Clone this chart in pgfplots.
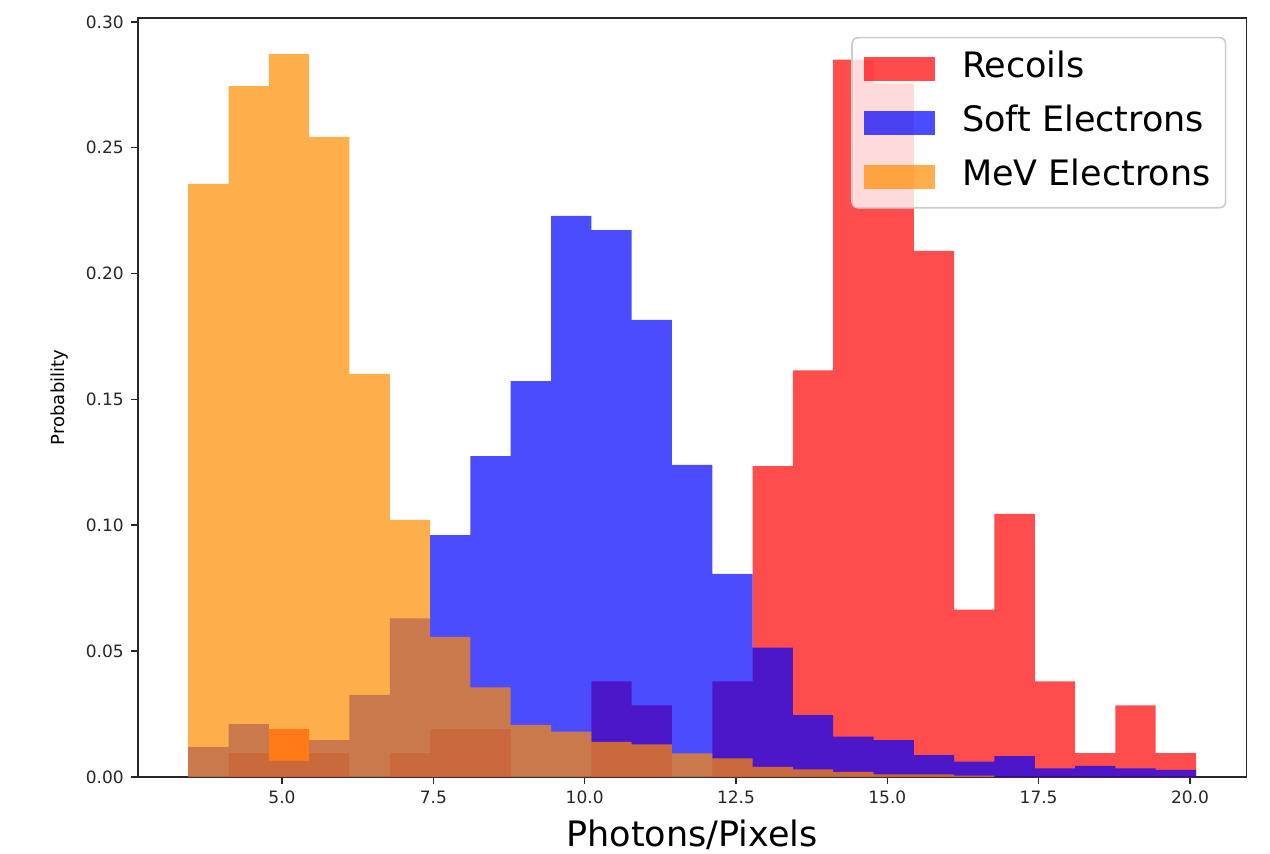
\documentclass[border=0pt]{standalone}
\usepackage{pgfplots}
\pgfplotsset{compat=1.18}
\usepackage{fontspec}
\setmainfont{DejaVu Sans}
\definecolor{mred}{RGB}{255,0,0}
\definecolor{mblue}{RGB}{0,0,255}
\definecolor{morange}{RGB}{255,140,0}
\definecolor{spine}{RGB}{40,40,40}
\definecolor{legframe}{RGB}{204,204,204}

\begin{document}
\begin{tikzpicture}
\begin{axis}[
  name=ax,
  scale only axis,
  width=554.3pt, height=379.55pt,
  xmin=2.6175, xmax=20.9325,
  ymin=0, ymax=0.30156,
  axis line style={spine, line width=0.8pt},
  xtick={5,7.5,10,12.5,15,17.5,20},
  ytick={0,0.05,0.1,0.15,0.2,0.25,0.3},
  scaled ticks=false,
  tick align=outside,
  tick pos=left,
  major tick length=3.5pt,
  tick style={spine, line width=0.8pt},
  ticklabel style={font=\fontsize{8.5}{10}\selectfont, text=black!85},
  /pgf/number format/assume math mode=true,
  x tick label style={/pgf/number format/fixed, /pgf/number format/fixed zerofill, /pgf/number format/precision=1},
  y tick label style={/pgf/number format/fixed, /pgf/number format/fixed zerofill, /pgf/number format/precision=2},
  xlabel={Photons/Pixels},
  xlabel style={font=\fontsize{17.5}{20}\selectfont, at={(axis description cs:0.5,0)}, anchor=center, yshift=-29pt},
  ylabel={Probability},
  ylabel style={font=\fontsize{9}{11}\selectfont, at={(axis description cs:-0.0702,0.5)}, anchor=center},
  legend cell align=left,
  legend image code/.code={\fill[#1, sharp corners] (0pt,-6pt) rectangle (35.5pt,6pt);},
  legend style={at={(1,1)}, anchor=north east, xshift=-10pt, yshift=-9.5pt,
    draw=legframe, line width=0.8pt, rounded corners=3pt, fill=white, fill opacity=0.8, text opacity=1,
    font=\fontsize{17.5}{20}\selectfont, inner sep=6pt,
    nodes={inner sep=1.5pt, text height=12.5pt, text depth=3.5pt},
    /tikz/every odd column/.append style={column sep=12pt},
    row sep=8pt},
]
\addplot[draw=none, fill=mred, fill opacity=0.7, const plot] coordinates {
(3.450,0) (4.116,0.0095) (4.782,0.019) (5.448,0.0095) (6.114,0) (6.780,0.0095)
(7.446,0.019) (8.112,0.019) (8.778,0) (9.444,0) (10.110,0.038) (10.776,0.0285)
(11.442,0) (12.108,0.038) (12.774,0.1235) (13.440,0.1615) (14.106,0.285) (14.772,0.2755)
(15.438,0.209) (16.104,0.0665) (16.770,0.1045) (17.436,0.038) (18.102,0.0095) (18.768,0.0285)
(19.434,0.0095) (20.100,0.0095)} \closedcycle;
\addlegendentry{Recoils}
\addplot[draw=none, fill=mblue, fill opacity=0.7, const plot] coordinates {
(3.450,0.012) (4.116,0.021) (4.782,0.0064) (5.448,0.0147) (6.114,0.0326) (6.780,0.063)
(7.446,0.0961) (8.112,0.1275) (8.778,0.1573) (9.444,0.2229) (10.110,0.2173) (10.776,0.1816)
(11.442,0.124) (12.108,0.0807) (12.774,0.0514) (13.440,0.0246) (14.106,0.016) (14.772,0.0147)
(15.438,0.0087) (16.104,0.0061) (16.770,0.0083) (17.436,0.0034) (18.102,0.0044) (18.768,0.0034)
(19.434,0.0028) (20.100,0.0028)} \closedcycle;
\addlegendentry{Soft Electrons}
\addplot[draw=none, fill=morange, fill opacity=0.7, const plot] coordinates {
(3.450,0.2356) (4.116,0.2745) (4.782,0.2872) (5.448,0.2543) (6.114,0.1601) (6.780,0.1021)
(7.446,0.0557) (8.112,0.0356) (8.778,0.0207) (9.444,0.018) (10.110,0.014) (10.776,0.013)
(11.442,0.0094) (12.108,0.0074) (12.774,0.004) (13.440,0.003) (14.106,0.002) (14.772,0.001)
(15.438,0.001) (16.104,0.0005) (16.770,0) (17.436,0) (18.102,0) (18.768,0)
(19.434,0) (20.100,0)} \closedcycle;
\addlegendentry{MeV Electrons}
\end{axis}
\pgfresetboundingbox
\path[use as bounding box] ([xshift=-68.9pt,yshift=-38pt]ax.south west) rectangle ([xshift=11.8pt,yshift=8.95pt]ax.north east);
\end{tikzpicture}
\end{document}
